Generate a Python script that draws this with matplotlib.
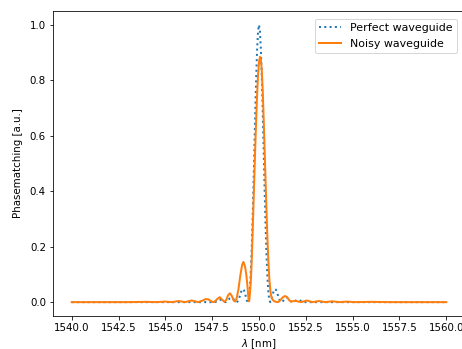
import matplotlib
matplotlib.use("Agg")
import matplotlib.pyplot as plt

# ---- data ----
perfect_wl = [
    1540.0,
    1547.60, 1547.65, 1547.70, 1547.75, 1547.80, 1547.85, 1547.90, 1547.95,
    1548.00, 1548.05, 1548.10, 1548.15, 1548.20, 1548.25, 1548.30, 1548.35,
    1548.40, 1548.45, 1548.50, 1548.55, 1548.60, 1548.65, 1548.70, 1548.75,
    1548.80, 1548.85, 1548.90, 1548.95, 1549.00, 1549.05, 1549.10, 1549.15,
    1549.20, 1549.25, 1549.30, 1549.35, 1549.40, 1549.45, 1549.50, 1549.55,
    1549.60, 1549.65, 1549.70, 1549.75, 1549.80, 1549.85, 1549.90, 1549.95,
    1550.00,
    1550.05, 1550.10, 1550.15, 1550.20, 1550.25, 1550.30, 1550.35, 1550.40,
    1550.45, 1550.50, 1550.55, 1550.60, 1550.65, 1550.70, 1550.75, 1550.80,
    1550.85, 1550.90, 1550.95, 1551.00, 1551.05, 1551.10, 1551.15, 1551.20,
    1551.25, 1551.30, 1551.35, 1551.40, 1551.45, 1551.50, 1551.55, 1551.60,
    1551.65, 1551.70, 1551.75, 1551.80, 1551.85, 1551.90, 1551.95, 1552.00,
    1552.05, 1552.10, 1552.15, 1552.20, 1552.25, 1552.30, 1552.35, 1552.40,
    1560.0,
]
perfect_val = [
    0.0,
    0.0, 0.0004, 0.0017, 0.0036, 0.0057, 0.0074, 0.0083, 0.0081,
    0.0068, 0.0048, 0.0025, 0.0007, 0.0, 0.0008, 0.0032, 0.0067,
    0.0107, 0.0142, 0.0162, 0.0162, 0.0140, 0.0100, 0.0054, 0.0016,
    0.0, 0.0019, 0.0075, 0.0165, 0.0274, 0.0377, 0.0450, 0.0471,
    0.0427, 0.0324, 0.0186, 0.0058, 0.0, 0.0081, 0.0365, 0.0901,
    0.1710, 0.2778, 0.4053, 0.5445, 0.6839, 0.8106, 0.9119, 0.9774,
    1.0,
    0.9774, 0.9119, 0.8106, 0.6839, 0.5445, 0.4053, 0.2778, 0.1710,
    0.0901, 0.0365, 0.0081, 0.0, 0.0058, 0.0186, 0.0324, 0.0427,
    0.0471, 0.0450, 0.0377, 0.0274, 0.0165, 0.0075, 0.0019, 0.0,
    0.0016, 0.0054, 0.0100, 0.0140, 0.0162, 0.0162, 0.0142, 0.0107,
    0.0067, 0.0032, 0.0008, 0.0, 0.0007, 0.0025, 0.0048, 0.0068,
    0.0081, 0.0083, 0.0074, 0.0057, 0.0036, 0.0017, 0.0004, 0.0,
    0.0,
]

noisy_wl = [
    1540.0, 1543.0, 1544.0, 1544.5, 1545.0, 1545.35, 1545.7, 1546.05, 1546.4,
    1546.75, 1547.0, 1547.15, 1547.3, 1547.5, 1547.6, 1547.75, 1547.9, 1548.05,
    1548.15, 1548.25, 1548.35, 1548.45, 1548.55, 1548.65, 1548.72, 1548.8,
    1548.9, 1549.0, 1549.1, 1549.17, 1549.25, 1549.32, 1549.38, 1549.43,
    1549.47, 1549.50, 1549.55, 1549.60, 1549.65, 1549.70, 1549.75, 1549.80,
    1549.85, 1549.90, 1549.95, 1550.00, 1550.05, 1550.10, 1550.15, 1550.20,
    1550.25, 1550.30, 1550.35, 1550.40, 1550.45, 1550.50, 1550.55, 1550.60,
    1550.65, 1550.70, 1550.75, 1550.80, 1550.90, 1551.00, 1551.10, 1551.20,
    1551.30, 1551.40, 1551.50, 1551.60, 1551.70, 1551.80, 1551.95, 1552.10,
    1552.25, 1552.55, 1552.85, 1553.2, 1553.55, 1553.9, 1554.3, 1554.7,
    1555.1, 1556.0, 1557.0, 1560.0,
]
noisy_val = [
    0.0, 0.0, 0.001, 0.0, 0.002, 0.0, 0.004, 0.0, 0.006,
    0.0, 0.006, 0.011, 0.010, 0.001, 0.0, 0.010, 0.018, 0.008,
    0.001, 0.008, 0.025, 0.032, 0.022, 0.006, 0.002, 0.012,
    0.045, 0.095, 0.135, 0.145, 0.130, 0.100, 0.060, 0.020,
    0.003, 0.020, 0.060, 0.130, 0.230, 0.340, 0.450, 0.560,
    0.660, 0.750, 0.820, 0.865, 0.885, 0.875, 0.835, 0.760,
    0.660, 0.550, 0.440, 0.330, 0.230, 0.150, 0.085, 0.045,
    0.022, 0.012, 0.007, 0.004, 0.001, 0.0, 0.004, 0.012,
    0.019, 0.022, 0.018, 0.008, 0.002, 0.003, 0.005, 0.002,
    0.0, 0.006, 0.0, 0.004, 0.0, 0.003, 0.0, 0.002,
    0.0, 0.001, 0.0, 0.0,
]

series_labels = ["Perfect waveguide", "Noisy waveguide"]
x_label = r"$\lambda$ [nm]"
y_label = "Phasematching [a.u.]"

# ---- figure ----
W, H, DPI = 462, 349, 72
fig = plt.figure(figsize=(W / DPI, H / DPI), dpi=DPI)
ax = fig.add_axes([53 / W, (H - 316) / H, (465 - 53) / W, (316 - 11) / H])

ax.plot(perfect_wl, perfect_val, linestyle=":", linewidth=2, color="#1f77b4",
        label=series_labels[0])
ax.plot(noisy_wl, noisy_val, linestyle="-", linewidth=2, color="#ff7f0e",
        label=series_labels[1])

ax.tick_params(labelsize=10.3)
ax.set_xlabel(x_label, fontsize=10.3)
ax.set_ylabel(y_label, fontsize=10.3, labelpad=7)
ax.legend(loc="upper right", fontsize=11, borderaxespad=0.7)

fig.savefig("out.png", dpi=DPI)
